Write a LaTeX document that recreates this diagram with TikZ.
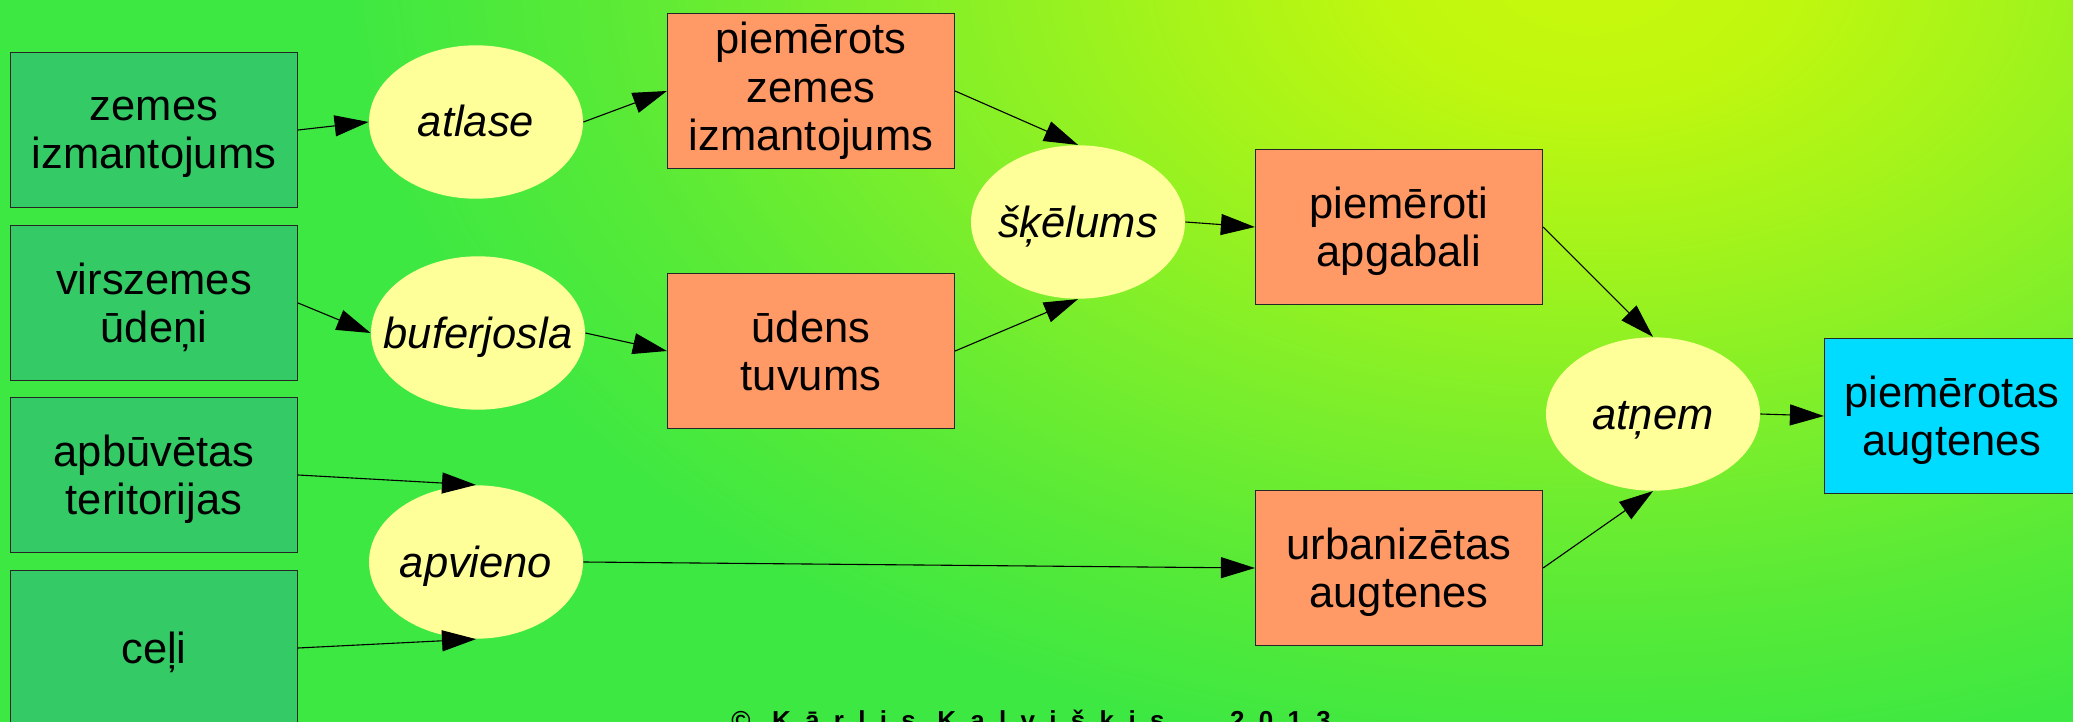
\documentclass[tikz,border=0pt]{standalone}
\usepackage{fontspec}
\setmainfont{Liberation Sans}
\usetikzlibrary{arrows.meta,shapes.geometric}

\definecolor{srcgreen}{HTML}{34CA66}
\definecolor{steporange}{HTML}{FF9966}
\definecolor{opyellow}{HTML}{FFFF99}
\definecolor{resblue}{HTML}{00DCFF}
\definecolor{bgouter}{HTML}{3DE842}
\definecolor{bgA}{HTML}{C8F80C}
\definecolor{bgB}{HTML}{C0F70F}
\definecolor{bgC}{HTML}{A2F31C}
\definecolor{bgD}{HTML}{80EF2A}
\definecolor{bgE}{HTML}{58EA37}

% soft yellow glow behind the top of the chart
% (the path's bounding box maps to the inner 25bp radius)
\pgfdeclareradialshading{bgglow}{\pgfpoint{0bp}{0bp}}{%
  color(0bp)=(bgA); color(4bp)=(bgB); color(9bp)=(bgC);
  color(14bp)=(bgD); color(20bp)=(bgE); color(25bp)=(bgouter);
  color(50bp)=(bgouter)}

% operation names: zero width, so every ellipse keeps one size
\newcommand{\opname}[1]{\makebox[0pt]{#1}}

\tikzset{
  labelfont/.style={font=\fontsize{21.75}{24}\selectfont},
  % fixed text boxes (baseline = last line) so every label sits alike
  oneline/.style={text height=19pt, text depth=4pt},
  twolines/.style={text height=43pt, text depth=4pt},
  threelines/.style={text height=63pt, text depth=4pt},
  srcbox/.style={labelfont, align=center, draw=black!85, line width=0.6pt,
    fill=srcgreen, minimum width=143.5pt, minimum height=77.4pt,
    inner sep=0pt},
  stepbox/.style={srcbox, fill=steporange},
  resbox/.style={srcbox, fill=resblue, minimum width=127.5pt},
  opnode/.style={ellipse, fill=opyellow, minimum width=107pt,
    minimum height=76.7pt, inner sep=0pt, oneline,
    font=\fontsize{21.75}{24}\selectfont\itshape},
  flow/.style={-{Triangle[length=17pt,width=10.5pt]}, line width=0.55pt},
  credit/.style={anchor=base west, inner sep=0pt,
    font=\bfseries\fontsize{13}{13}\selectfont\addfontfeature{LetterSpace=55}}
}

\begin{document}
\begin{tikzpicture}[x=0.5pt,y=-0.5pt]
  % background
  \fill[bgouter] (0,0) rectangle (2073,722);
  \begin{scope}
    \clip (0,0) rectangle (2073,722);
    \shade[shading=bgglow] (1590,-30) ellipse (1250 and 800);
  \end{scope}
  \useasboundingbox (0,0) rectangle (2073,722);

  % input layers
  \node[srcbox, twolines] (zi) at (154,130) {zemes\\izmantojums};
  \node[srcbox, twolines] (vu) at (154,303) {virszemes\\ūdeņi};
  \node[srcbox, twolines] (ab) at (154,475) {apbūvētas\\teritorijas};
  \node[srcbox, oneline] (ce) at (154,648) {ceļi};

  % first operations
  \node[opnode] (atl) at (476,122) {\opname{atlase}};
  \node[opnode] (buf) at (478,333) {\opname{buferjosla}};
  \node[opnode] (apv) at (476,562) {\opname{apvieno}};

  % intermediate layers
  \node[stepbox, threelines] (pzi) at (811,91) {piemērots\\zemes\\izmantojums};
  \node[stepbox, twolines] (ut) at (811,351) {ūdens\\tuvums};
  \node[opnode] (skl) at (1078,222) {\opname{šķēlums}};
  \node[stepbox, twolines] (pa) at (1399,227) {piemēroti\\apgabali};
  \node[stepbox, twolines] (ua) at (1399,568) {urbanizētas\\augtenes};
  \node[opnode] (atn) at (1653,414) {\opname{atņem}};
  \node[resbox, twolines] (res) at (1952,416) {piemērotas\\augtenes};

  % connections
  \draw[flow] (zi.east) -- (atl.west);
  \draw[flow] (vu.east) -- (buf.west);
  \draw[flow] (ab.east) -- (apv.north);
  \draw[flow] (ce.east) -- (apv.south);
  \draw[flow] (atl.east) -- (pzi.west);
  \draw[flow] (buf.east) -- (ut.west);
  \draw[flow] (apv.east) -- (ua.west);
  \draw[flow] (pzi.east) -- (skl.north);
  \draw[flow] (ut.east) -- (skl.south);
  \draw[flow] (skl.east) -- (pa.west);
  \draw[flow] (pa.east) -- (atn.north);
  \draw[flow] (ua.east) -- (atn.south);
  \draw[flow] (atn.east) -- (res.west);

  % author line
  \node[credit] (copy) at (731,729) {© Kārlis Kalvišķis\hspace{22pt} 2013};
\end{tikzpicture}
\end{document}
